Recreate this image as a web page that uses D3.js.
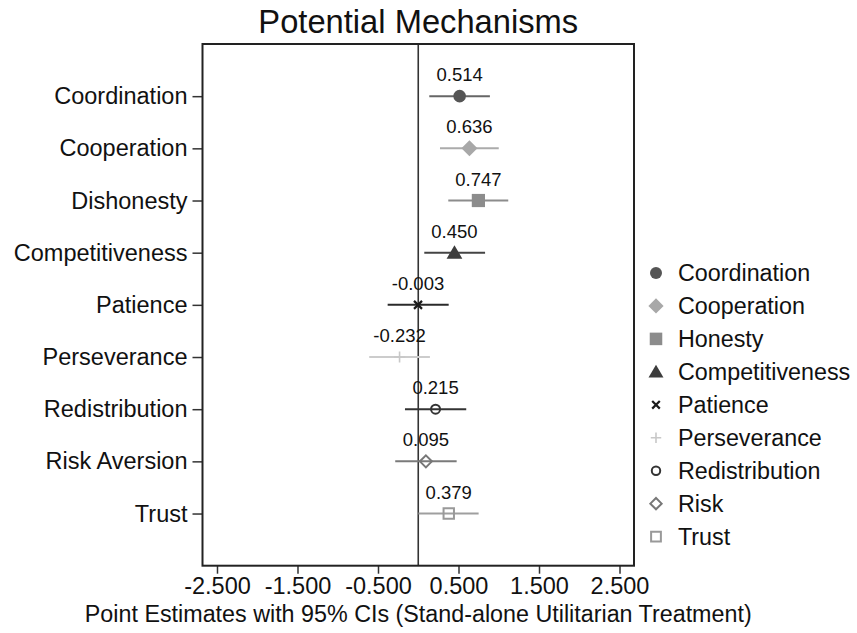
<!DOCTYPE html>
<html>
<head>
<meta charset="utf-8">
<script src="https://cdn.jsdelivr.net/npm/d3@7"></script>
<style>
  html, body { margin: 0; padding: 0; background: #fff; }
  svg { display: block; font-family: "Liberation Sans", Arial, Helvetica, sans-serif; }
</style>
</head>
<body>
<svg id="chart" width="857" height="633"></svg>
<script>
// Outcome rows (top to bottom)
const categories = ["Coordination", "Cooperation", "Dishonesty", "Competitiveness",
  "Patience", "Perseverance", "Redistribution", "Risk Aversion", "Trust"];
// Point estimates
const estimates = [0.514, 0.636, 0.747, 0.450, -0.003, -0.232, 0.215, 0.095, 0.379];
// 95% confidence bounds
const ciLower = [0.137, 0.270, 0.373, 0.075, -0.380, -0.609, -0.165, -0.286, 0.002];
const ciUpper = [0.890, 1.000, 1.118, 0.830, 0.378, 0.145, 0.596, 0.477, 0.750];
// Legend entries
const legendLabels = ["Coordination", "Cooperation", "Honesty", "Competitiveness",
  "Patience", "Perseverance", "Redistribution", "Risk", "Trust"];
// X-axis ticks
const xTicks = [-2.5, -1.5, -0.5, 0.5, 1.5, 2.5];

// Marker style per series
const markerShapes = ["circle", "diamond", "square", "triangle", "cross", "plus", "circle", "diamond", "square"];
const markerFilled = [true, true, true, true, true, true, false, false, false];
const markerColors = ["#555555", "#a8a8a8", "#8c8c8c", "#3d3d3d", "#1a1a1a", "#c8c8c8", "#333333", "#777777", "#999999"];
const lineColors = ["#666666", "#ababab", "#8c8c8c", "#444444", "#2a2a2a", "#cccccc", "#333333", "#7a7a7a", "#9f9f9f"];

const svg = d3.select("#chart");
const plot = { left: 202.5, right: 634, top: 44, bottom: 565.7 };

const x = d3.scaleLinear().domain([-2.68, 2.68]).range([plot.left, plot.right]);
const y = d3.scaleLinear().domain([0, 10]).range([plot.top, plot.bottom]);

// Three-decimal numbers with a plain hyphen for negatives
const fmt3 = (v) => d3.format(".3f")(v).replace("\u2212", "-");

// Title
svg.append("text")
  .attr("x", (plot.left + plot.right) / 2)
  .attr("y", 33)
  .attr("text-anchor", "middle")
  .attr("font-size", 32.7)
  .attr("fill", "#111")
  .text("Potential Mechanisms");

// Zero reference line
svg.append("line")
  .attr("x1", x(0)).attr("x2", x(0))
  .attr("y1", plot.top).attr("y2", plot.bottom)
  .attr("stroke", "#333").attr("stroke-width", 1.6);

// X axis
const xAxis = svg.append("g")
  .attr("transform", `translate(0,${plot.bottom})`)
  .call(d3.axisBottom(x).tickValues(xTicks).tickFormat(fmt3).tickSize(8).tickPadding(4));
xAxis.select(".domain").remove();
xAxis.selectAll("line").attr("stroke", "#333").attr("stroke-width", 1.5);
xAxis.selectAll("text").attr("font-size", 23.5).attr("fill", "#111")
  .attr("font-family", "'Liberation Sans', Arial, sans-serif");

// Y axis
const yAxis = svg.append("g")
  .attr("transform", `translate(${plot.left},0)`)
  .call(d3.axisLeft(y).tickValues(categories.map((d, i) => i + 1))
    .tickFormat((d) => categories[d - 1]).tickSize(10).tickPadding(5));
yAxis.select(".domain").remove();
yAxis.selectAll("line").attr("stroke", "#333").attr("stroke-width", 1.5);
yAxis.selectAll("text").attr("font-size", 23.5).attr("fill", "#111")
  .attr("font-family", "'Liberation Sans', Arial, sans-serif");

// X axis title
svg.append("text")
  .attr("x", (plot.left + plot.right) / 2)
  .attr("y", 622)
  .attr("text-anchor", "middle")
  .attr("font-size", 23.3)
  .attr("fill", "#111")
  .text("Point Estimates with 95% CIs (Stand-alone Utilitarian Treatment)");

// Marker path generator
function markerPath(shape, s) {
  switch (shape) {
    case "circle": return null;
    case "diamond": return `M0,${-s}L${s},0L0,${s}L${-s},0Z`;
    case "square": return `M${-s},${-s}H${s}V${s}H${-s}Z`;
    case "triangle": return `M0,${-s}L${s * 1.05},${s * 0.8}L${-s * 1.05},${s * 0.8}Z`;
    case "cross": return `M${-s},${-s}L${s},${s}M${-s},${s}L${s},${-s}`;
    case "plus": return `M${-s},0H${s}M0,${-s}V${s}`;
  }
}
const markerSize = {
  filled: { circle: 6.3, diamond: 8, square: 6.6, triangle: 7.5, cross: 4, plus: 5.5 },
  hollow: { circle: 5.5, diamond: 7, square: 6.2 }
};

function drawMarker(g, i, scale) {
  const shape = markerShapes[i];
  const filled = markerFilled[i];
  const s = (filled ? markerSize.filled[shape] : markerSize.hollow[shape]) * scale;
  const col = markerColors[i];
  if (shape === "circle") {
    g.append("circle").attr("r", filled ? s : s - 1)
      .attr("fill", filled ? col : "none")
      .attr("stroke", filled ? "none" : col)
      .attr("stroke-width", filled ? 0 : 2);
  } else if (shape === "cross" || shape === "plus") {
    g.append("path").attr("d", markerPath(shape, s))
      .attr("fill", "none").attr("stroke", col)
      .attr("stroke-width", shape === "cross" ? 2.2 : 1.6);
  } else {
    g.append("path").attr("d", markerPath(shape, filled ? s : s - 1))
      .attr("fill", filled ? col : "none")
      .attr("stroke", filled ? "none" : col)
      .attr("stroke-width", filled ? 0 : 2);
  }
}

// Confidence intervals, markers and value labels
categories.forEach((c, i) => {
  const cy = y(i + 1);
  svg.append("line")
    .attr("x1", x(ciLower[i])).attr("x2", x(ciUpper[i]))
    .attr("y1", cy).attr("y2", cy)
    .attr("stroke", lineColors[i]).attr("stroke-width", 2);
  const g = svg.append("g").attr("transform", `translate(${x(estimates[i])},${cy})`);
  drawMarker(g, i, 1);
  svg.append("text")
    .attr("x", x(estimates[i]))
    .attr("y", cy - 15)
    .attr("text-anchor", "middle")
    .attr("font-size", 18.5)
    .attr("fill", "#111")
    .text(fmt3(estimates[i]));
});

// Plot frame
svg.append("rect")
  .attr("x", plot.left).attr("y", plot.top)
  .attr("width", plot.right - plot.left).attr("height", plot.bottom - plot.top)
  .attr("fill", "none").attr("stroke", "#222").attr("stroke-width", 2);

// Legend
const legend = svg.append("g");
legendLabels.forEach((lab, i) => {
  const ly = 273 + i * 32.95;
  const g = legend.append("g").attr("transform", `translate(656,${ly})`);
  drawMarker(g, i, 0.95);
  legend.append("text")
    .attr("x", 678).attr("y", ly + 8)
    .attr("font-size", 23.3)
    .attr("fill", "#111")
    .text(lab);
});
</script>
</body>
</html>
